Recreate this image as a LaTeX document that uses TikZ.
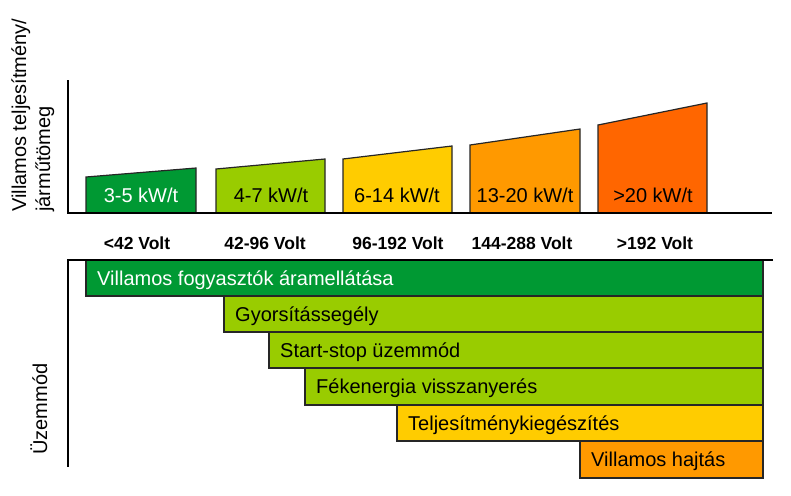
\documentclass[tikz,border=0pt]{standalone}
\usepackage{fontspec}
\setmainfont{Liberation Sans}
\definecolor{dgreen}{HTML}{009933}
\definecolor{lgreen}{HTML}{99CC00}
\definecolor{myyellow}{HTML}{FFCC00}
\definecolor{myorange}{HTML}{FF9900}
\definecolor{dorange}{HTML}{FF6600}
\begin{document}
\begin{tikzpicture}[x=1pt,y=-1pt,
  axisline/.style={line width=2.2pt,black},
  trap/.style={draw=black!85,line width=1.2pt,line join=miter},
  bar/.style={draw=black!85,line width=1.5pt},
  kw/.style={anchor=base,inner sep=0pt,font=\fontsize{20}{24}\selectfont},
  volt/.style={anchor=base,inner sep=0pt,font=\fontsize{17.5}{21}\selectfont\bfseries},
  bartext/.style={anchor=base west,inner sep=0pt,font=\fontsize{20}{24}\selectfont},
  ylab/.style={rotate=90,inner sep=0pt,font=\fontsize{20}{24}\selectfont}]
\useasboundingbox (0,0) rectangle (791,495);
% trapezoids
\filldraw[trap,fill=dgreen] (86,213) -- (86,177) -- (196,168) -- (196,213);
\filldraw[trap,fill=lgreen] (216,213) -- (216,169) -- (325,159) -- (325,213);
\filldraw[trap,fill=myyellow] (343,213) -- (343,159) -- (452,146) -- (452,213);
\filldraw[trap,fill=myorange] (470,213) -- (470,145) -- (580,129) -- (580,213);
\filldraw[trap,fill=dorange] (598,213) -- (598,125) -- (707,103) -- (707,213);
\node[kw,white] (k1) at (141,202) {3-5 kW/t};
\node[kw] (k2) at (271,202) {4-7 kW/t};
\node[kw] (k3) at (397,202) {6-14 kW/t};
\node[kw] (k4) at (525,202) {13-20 kW/t};
\node[kw] (k5) at (653,202) {>20 kW/t};
% top axes
\coordinate (ytop) at (68,80);
\coordinate (origin) at (68,213);
\coordinate (xend) at (772,213);
\draw[axisline] (ytop) -- (origin) -- (xend);
% voltage labels
\node[volt] (v1) at (137,249) {<42 Volt};
\node[volt] (v2) at (265,249) {42-96 Volt};
\node[volt] (v3) at (398,249) {96-192 Volt};
\node[volt] (v4) at (522,249) {144-288 Volt};
\node[volt] (v5) at (655,249) {>192 Volt};
% y label
\node[ylab,anchor=base west] (yl1) at (26,212) {Villamos teljesítmény/};
\node[ylab,anchor=base west] (yl2) at (50,212) {járműtömeg};
% bars
\filldraw[bar,fill=dgreen] (86,260) rectangle (763,296);
\filldraw[bar,fill=lgreen] (224,296) rectangle (763,332);
\filldraw[bar,fill=lgreen] (269,332) rectangle (763,368);
\filldraw[bar,fill=lgreen] (305,368) rectangle (763,405);
\filldraw[bar,fill=myyellow] (397,405) rectangle (763,441);
\filldraw[bar,fill=myorange] (580,441) rectangle (763,478);
\node[bartext,white] (m1) at (97,285) {Villamos fogyasztók áramellátása};
\node[bartext] (m2) at (235,321) {Gyorsítássegély};
\node[bartext] (m3) at (280,357) {Start-stop üzemmód};
\node[bartext] (m4) at (316,393) {Fékenergia visszanyerés};
\node[bartext] (m5) at (408,430) {Teljesítménykiegészítés};
\node[bartext] (m6) at (591,466) {Villamos hajtás};
% lower axes
\coordinate (lend) at (773,260);
\coordinate (lcorner) at (68,260);
\coordinate (lbottom) at (68,467);
\draw[axisline] (lend) -- (lcorner) -- (lbottom);
\node[ylab,anchor=base] (um) at (47,409) {Üzemmód};
\end{tikzpicture}
\end{document}
